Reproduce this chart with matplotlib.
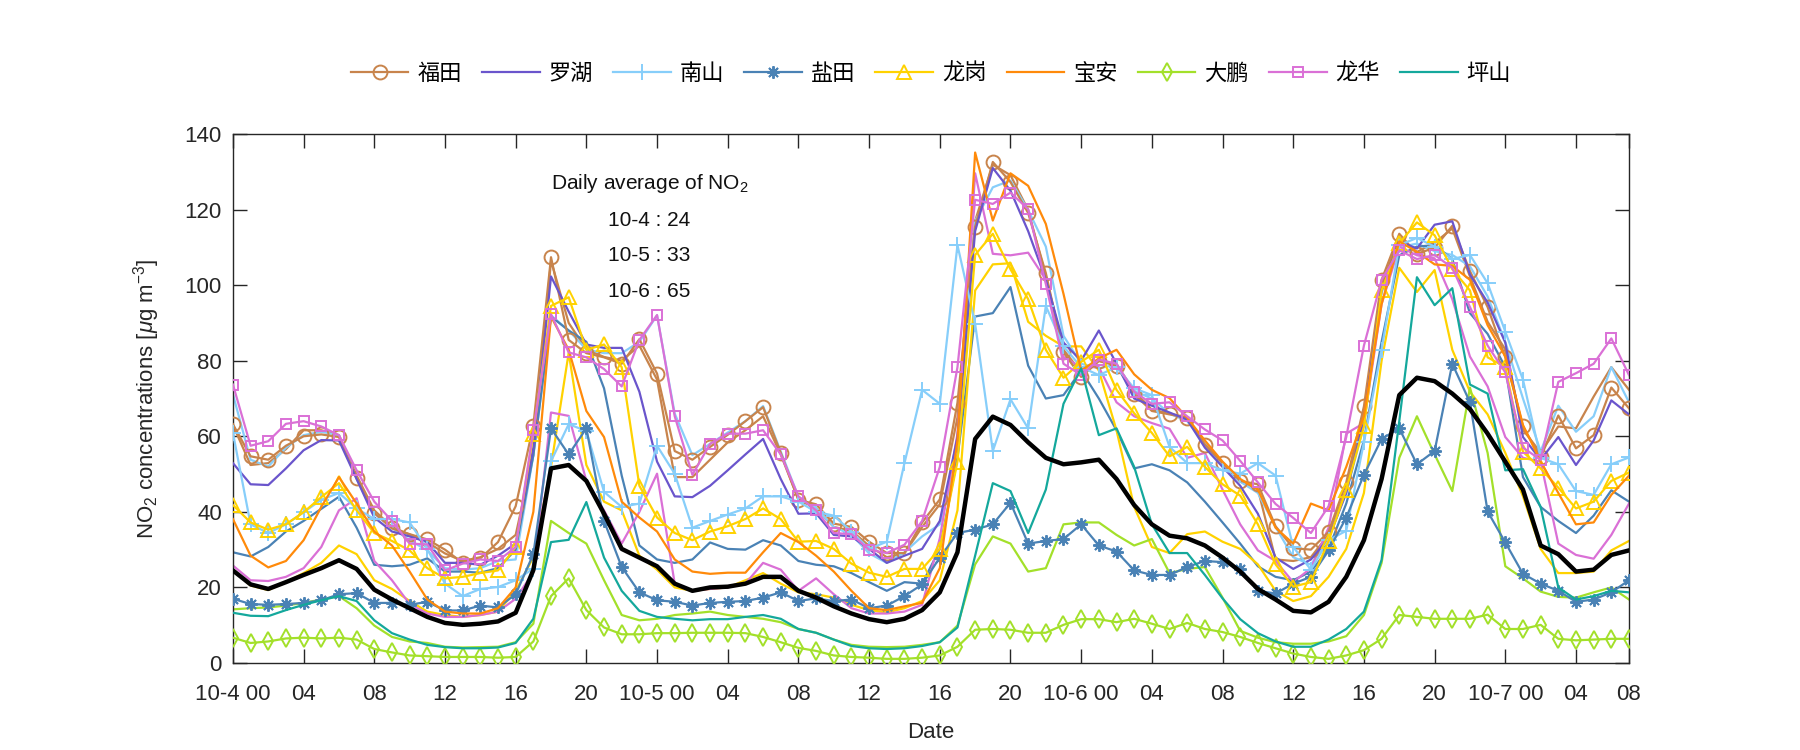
import numpy as np
import matplotlib
matplotlib.use("Agg")
import matplotlib.pyplot as plt

hours = np.arange(80)

futian = [63.2, 54.7, 53.8, 57.5, 60, 60.5, 59.8, 48.9, 39.7, 35.6, 34.1, 32.7, 30, 26.5, 27.7, 32, 41.5,
          62.8, 107.4, 85.5, 82, 80.9, 79.2, 85.7, 76.6, 56.1, 53.8, 57.2, 60.4, 64, 67.7, 55.6, 43.2,
          42, 36.9, 36, 32.1, 29.1, 29.1, 37.2, 43.3, 68.9, 115.5, 132.6, 127.3, 119.1, 103.2, 82.2, 75.7,
          79.9, 78.7, 71.1, 66.7, 65.8, 64.9, 57.8, 52.9, 48.2, 47.3, 36.2, 30.4, 30, 34.7, 47.8, 67.9,
          101.4, 113.6, 108.3, 109.9, 115.7, 103.7, 94.2, 80.9, 62.6, 54.4, 65.5, 56.8, 60.3, 72.9, 67.4]
luohu = [52.9, 47.3, 47.1, 51.5, 56.3, 59, 58.9, 48.7, 38.5, 34.8, 33.5, 32, 26.5, 26.5, 26, 28.4, 31.6,
         57, 102.3, 93, 84.3, 83.4, 83.4, 71.8, 53.3, 44.1, 43.9, 46.9, 51, 55.2, 59.3, 48.7, 39.5,
         39.6, 33.9, 33.5, 30.2, 26.5, 28.4, 30.2, 37.6, 59.8, 114.3, 131, 125, 114.3, 101.4, 84.8, 80,
         88, 79.2, 70, 68.1, 66.3, 64.4, 57, 51.9, 46.9, 39.5, 27.9, 24.9, 27.4, 33, 45, 64.4,
         98.6, 111.6, 109.7, 116, 116.9, 102.8, 95.4, 84.8, 59.8, 53.8, 59.8, 52.4, 58.9, 69.5, 65.8]
nanshan = [60.9, 36.7, 34.4, 36.7, 39.9, 43.2, 45, 40.9, 38.1, 38.1, 37.2, 30.2, 21, 17.7, 19.6, 20.1, 21.9,
           25, 53.4, 63.2, 61.4, 45.3, 41.3, 42.2, 57.5, 50.1, 35.8, 37.6, 39.3, 40.9, 44.1, 44.1, 42.7,
           40, 39, 34.8, 30.2, 32.1, 52.9, 72.3, 68.6, 110.6, 89.8, 56.1, 69.8, 62.1, 94.5, 83.8, 78.3,
           76.2, 78.3, 72.7, 70.9, 57.2, 52.9, 52.9, 51, 50.1, 52.9, 49.6, 30.7, 24.7, 32.5, 35, 58.4,
           82.9, 110.6, 112.5, 110.2, 106.9, 108, 100.5, 87.7, 75, 54.3, 52.6, 45.5, 44.5, 52.6, 54.4]
yantian = [17, 15.6, 15.4, 15.6, 15.9, 16.6, 18.2, 18.5, 15.9, 15.9, 15.4, 16.2, 13.9, 13.9, 15.2, 14.7, 18.2,
           28.8, 62.1, 55.2, 62.1, 37.6, 25.4, 18.7, 16.6, 16.2, 15.2, 15.9, 16.2, 16.4, 17.3, 18.7, 16.4,
           17.1, 16.4, 16.8, 14.5, 15.2, 17.7, 20.8, 27.9, 34.4, 35.3, 36.7, 42.4, 31.6, 32.3, 32.8, 36.7,
           31.1, 29.5, 24.5, 23.3, 23.3, 25.4, 27, 26.7, 24.9, 19.1, 18.4, 21, 22.8, 29.8, 38.5, 49.8,
           59.3, 62.1, 52.6, 56.1, 79.2, 69, 40.1, 31.9, 23.6, 21, 19.1, 16.2, 16.8, 18.7, 21.9]
longgang = [41.8, 37.2, 35.3, 36.7, 39.9, 43.9, 47.6, 40.4, 34.4, 32.3, 29.8, 25.1, 22.4, 22.8, 23.8, 24.5, 30.7,
            60.7, 94.5, 96.8, 82.9, 84.3, 78.3, 46.9, 38.5, 34.4, 32.5, 34.8, 36.2, 38.1, 40.9, 38.1, 32.1,
            32.3, 30.2, 26.3, 23.9, 22.8, 24.9, 24.9, 30.2, 53.3, 108, 113.6, 104.2, 96.3, 82.9, 75.5, 79.7,
            82.9, 72.3, 66.1, 60.9, 54.7, 57.2, 51.9, 47.3, 44.3, 36.7, 26.1, 20.2, 21.4, 32.3, 45.9, 62.6,
            98.6, 111.1, 116.6, 113.2, 104.2, 98.6, 80.9, 78.3, 55.9, 51.5, 46.4, 40.9, 42.7, 48.2, 50.4]
baoan = [38.1, 28.4, 25.3, 27, 32.5, 41.3, 49.2, 42.2, 34.8, 31.1, 24.2, 16.8, 13.6, 13.1, 13.1, 14.5, 20,
         40, 91.7, 82.9, 66.7, 59.8, 42.7, 38.5, 34.8, 27.4, 24.2, 23.6, 23.9, 23.9, 29.3, 34.4, 32,
         28.4, 24.2, 19.1, 14.5, 14, 15, 15.9, 25.1, 58.9, 135.1, 117.1, 129.6, 126.3, 116.2, 97.7, 77.4,
         80.6, 82.9, 76.4, 72.3, 70.1, 64.9, 58.9, 53.3, 48.7, 45.9, 35.8, 31.6, 42.2, 40.4, 51.9, 65.3,
         95, 111.6, 108.8, 105.5, 105.1, 101.4, 89.4, 81.1, 63, 53.3, 45, 36.7, 37.2, 44.5, 49.6]
dapeng = [6.7, 5.3, 5.7, 6.5, 6.7, 6.5, 6.7, 6.2, 3.7, 2.8, 2, 1.8, 1.6, 1.6, 1.6, 1.4, 1.6,
          5.7, 17.7, 22.4, 14, 9.4, 7.6, 7.6, 7.9, 7.9, 8, 8, 8, 7.9, 6.9, 5.5, 4,
          3.2, 2, 1.6, 1.4, 1.1, 1.1, 1.4, 2, 4.3, 8.8, 9, 8.8, 8, 8, 10.1, 11.6,
          11.6, 10.8, 11.7, 10.4, 9, 10.6, 9, 8.2, 6.9, 5.3, 3.9, 2.5, 1.6, 1.1, 2, 3.4,
          6.4, 12.7, 12.2, 11.7, 11.7, 11.7, 12.8, 9, 9, 10.1, 6.4, 6, 6.2, 6.4, 6.4]
longhua = [73.7, 57.5, 58.7, 63.3, 64, 62.6, 60.3, 51, 42.7, 37.6, 31.6, 31.4, 24.5, 26.3, 27.4, 27, 30.7,
           61.6, 92.3, 82.2, 80.9, 77.8, 73.2, 85.5, 92.1, 65.3, 49.8, 58, 60.7, 60.7, 61.6, 55.2, 44.1,
           40.4, 34.4, 34.1, 30, 29.1, 31.3, 37.6, 51.9, 78.3, 122.6, 121.5, 124.5, 120.1, 100.3, 79.2, 76.2,
           80.3, 79.2, 71.8, 68.6, 69, 65.3, 61.8, 58.9, 53.5, 47.8, 42.1, 38.4, 34.4, 41.5, 59.8, 84,
           101.4, 109.2, 106.9, 108, 104.6, 94.2, 84, 76.9, 57, 53.8, 74.4, 76.7, 79.2, 85.9, 76.2]
pingshan = [13.3, 12.5, 12.4, 14, 15.4, 16.6, 17.7, 16.4, 11.3, 7.9, 6.2, 4.8, 4.2, 3.9, 3.9, 4.1, 5.3,
            11.7, 32, 32.6, 42.6, 27.9, 19.1, 13.8, 12.2, 11.7, 11.3, 11.6, 11.6, 12.2, 12.7, 11.7, 9,
            8, 6.2, 4.5, 3.9, 3.7, 3.9, 4.5, 5.5, 9.4, 28.4, 47.6, 45.5, 34.4, 45.9, 68.6, 78,
            60.3, 62.1, 51.9, 36.7, 29.1, 29.1, 23.3, 17.1, 11.6, 7.9, 5.7, 4.3, 4.3, 6.2, 9, 13.6,
            27.3, 64, 102.1, 94.7, 99.2, 73.7, 71.3, 51, 51.3, 41.3, 20, 16.8, 17.7, 19.1, 18.7]

# second set of district curves (plotted without markers)
futian_b = [63, 52.4, 52.9, 56.6, 61.6, 61.6, 60.3, 49.6, 40.4, 36, 34, 32, 29, 27, 28, 30.2, 33.9,
            55, 106.5, 90, 83, 81, 80, 84, 75, 49.2, 49.2, 53.8, 58.4, 61.6, 65.3, 55.2, 43.2,
            41, 36, 35, 31, 28, 29, 36, 42, 65, 117, 131.9, 129.1, 119.9, 102.3, 82.9, 76.9,
            80, 79, 72, 67, 66, 65, 58, 53, 48, 46, 27.4, 27, 28, 34, 46, 66,
            100, 112.5, 108.8, 111.2, 115, 102.3, 90.3, 83, 61.7, 55.7, 62.6, 62.1, 70.5, 78.3, 72.3]
nanshan_b = [71.1, 53.8, 52, 57, 60.3, 61.2, 60.3, 48.7, 39.5, 35.8, 32.5, 29.8, 25.1, 24.7, 25.1, 27, 27.4,
             55, 92, 88, 83, 82, 82, 85, 92, 66, 55, 58, 61, 64, 68, 56, 44,
             41, 36, 34, 29, 26.5, 29.3, 33.5, 36.7, 54.3, 117, 125.9, 127.7, 119.9, 110.2, 86.6, 79.2,
             78, 79, 72, 70, 66, 64, 58, 52, 48, 45, 36, 28, 26, 33, 45, 63,
             98, 110, 111, 109, 108, 105, 97, 85, 70, 56, 68.1, 61.2, 65.3, 78.3, 69]
yantian_b = [29.3, 28.2, 30.7, 34.8, 37.6, 40.8, 44, 35.8, 26, 25.6, 26, 27.7, 24.2, 24.2, 23.9, 25.1, 30,
             55, 91.7, 88, 85, 72.7, 49.6, 31.1, 27.4, 26.5, 27.4, 31.9, 30.2, 30, 32.5, 31.1, 27,
             26, 25.6, 23.8, 21.4, 19.1, 21.4, 21, 30.2, 54.3, 91.7, 92.6, 99.5, 78.7, 70, 70.9, 77.4,
             70, 61.6, 51.5, 52.6, 51, 47.8, 42.7, 37.2, 31.6, 25.6, 22.8, 21.9, 24.2, 30.2, 42.2, 58.9,
             85, 107.9, 110.2, 110.6, 106.9, 92.6, 87.1, 78.3, 49.2, 41.3, 37.6, 34.4, 39, 45.7, 42.7]
longgang_b = [24.7, 20.5, 19.3, 21.4, 23.8, 26.5, 31.1, 28.8, 21.9, 19.6, 16.4, 13.6, 12.7, 12.2, 12.7, 13.6, 19.1,
              28, 52, 82.1, 52.4, 42.7, 40.4, 28.4, 24.7, 20, 19.1, 19.6, 20, 21.9, 23.8, 21, 18.7,
              18.2, 17.3, 15.4, 14, 13.4, 14.5, 16.4, 21.9, 40.4, 98.6, 105.5, 105.8, 90.3, 86.6, 83.8, 83.8,
              77.4, 61.6, 41.3, 30.7, 29.1, 34.1, 34.8, 32.1, 30.2, 26.1, 19.1, 16.4, 17.7, 22.8, 30.2, 45,
              80, 104.6, 98.2, 104, 82.9, 71.8, 65.8, 55.6, 44.1, 30.2, 23.8, 23.8, 24.2, 29.8, 32.3]
dapeng_b = [14.2, 14.5, 14.7, 15.2, 15.9, 16.8, 17.7, 14.5, 9.9, 6.9, 5.7, 5.3, 4.3, 4.1, 4.2, 4.3, 5.5,
            10.4, 37.6, 34.4, 31.6, 21.9, 12.7, 11.3, 11.7, 12.7, 13.1, 13.6, 12.7, 12.2, 11.7, 10.8, 9,
            8, 6.2, 4.8, 4.3, 4.2, 4.3, 4.8, 5.5, 9.9, 26.1, 33.5, 31.6, 24.2, 25.1, 36.7, 37.2,
            37.2, 33.9, 31.1, 32.8, 23.8, 24.9, 25.4, 17.3, 8.5, 6.7, 5.5, 5.1, 5.1, 5.7, 7.1, 12.7,
            26.5, 54.3, 65.3, 55.2, 45.5, 72.9, 55.6, 25.6, 22.4, 18.9, 17.5, 17.3, 18.7, 20, 16.8]
longhua_b = [25.8, 21.9, 21.7, 22.8, 25.1, 30.7, 40.4, 43.6, 27, 21.9, 15.6, 13.1, 12.2, 12.2, 12.7, 13.6, 17,
             24, 66.3, 65.4, 48.2, 40.4, 31.6, 40, 50.1, 21, 19.1, 19.6, 20, 21, 26.5, 24.7, 19.1,
             22.4, 18.2, 14.5, 13.1, 13.1, 13.6, 15.4, 33, 60.7, 129.6, 108.3, 107.9, 108.6, 101.4, 81, 78.3,
             78.3, 69, 65.3, 63.5, 62, 54.3, 55.6, 45.9, 36.7, 29.8, 27, 21.4, 25.1, 35.8, 60.7, 63.5,
             95, 110.2, 107.9, 107.1, 96.3, 81.1, 73.2, 59.8, 54.3, 53.3, 31.6, 28.6, 27.6, 33.9, 42.2]
average = [24.5, 20.8, 19.6, 21.4, 23.3, 25.1, 27.2, 24.9, 19.4, 16.8, 14.5, 12.2, 10.6, 10.1, 10.4, 11, 13.3,
           24.6, 51.5, 52.4, 48.2, 39.5, 30.2, 27.9, 25.6, 21, 19.1, 20, 20.2, 21, 22.8, 22.8, 19.1,
           17.3, 15, 13.1, 11.6, 10.8, 11.7, 14, 18.7, 29.3, 59.3, 65.2, 63, 58.4, 54.3, 52.6, 53.1,
           53.8, 48.7, 41.8, 36.7, 33.7, 33, 31.1, 27.9, 24.2, 19.6, 16.8, 13.8, 13.4, 16.2, 22.8, 32.5,
           48.7, 70.9, 75.5, 74.6, 71.3, 67.2, 60.7, 53.3, 45.9, 31.1, 28.8, 24.2, 24.7, 28.6, 29.8]

tick_pos = [0, 4, 8, 12, 16, 20, 24, 28, 32, 36, 40, 44, 48, 52, 56, 60, 64, 68, 72, 76, 79]
tick_labels = ['10-4 00', '04', '08', '12', '16', '20', '10-5 00', '04', '08', '12', '16', '20',
               '10-6 00', '04', '08', '12', '16', '20', '10-7 00', '04', '08']
daily_avg = [('10-4', 24), ('10-5', 33), ('10-6', 65)]

names = ['福田', '罗湖', '南山', '盐田', '龙岗', '宝安', '大鹏', '龙华', '坪山']
colors = ['#C8844C', '#6A55CC', '#87CEFA', '#4A82B5', '#FFD200', '#FF8A0A', '#A3E02A', '#DA70D6', '#14A89C']
markers = ['o', None, '+', (8, 2, 0), '^', None, 'd', 's', None]
msizes = [10, 0, 11, 9, 10, 0, 9, 7.5, 0]
series = [futian, luohu, nanshan, yantian, longgang, baoan, dapeng, longhua, pingshan]
second = {0: futian_b, 2: nanshan_b, 3: yantian_b, 4: longgang_b, 6: dapeng_b, 7: longhua_b}

plt.rcParams['font.family'] = ['Liberation Sans', 'Noto Sans CJK SC']
plt.rcParams['mathtext.fontset'] = 'custom'
plt.rcParams['mathtext.rm'] = 'Liberation Sans'
plt.rcParams['mathtext.it'] = 'Liberation Sans:italic'

fig = plt.figure(figsize=(18, 7.5), dpi=100)
ax = fig.add_axes([0.1294, 0.116, 0.7756, 0.7053])

for i, vals in second.items():
    ax.plot(hours, vals, color=colors[i], lw=1.6, zorder=2)

handles = []
for i, vals in enumerate(series):
    if markers[i] is None:
        h, = ax.plot(hours, vals, color=colors[i], lw=1.6, zorder=3)
    else:
        h, = ax.plot(hours, vals, color=colors[i], lw=1.6, marker=markers[i], ms=msizes[i],
                     mfc='none', mec=colors[i], mew=1.4, zorder=3)
    handles.append(h)

ax.plot(hours, average, color='black', lw=3.2, zorder=4)

ax.set_xlim(0, 79)
ax.set_ylim(0, 140)
ax.set_yticks(np.arange(0, 141, 20))
ax.set_xticks(tick_pos)
ax.set_xticklabels(tick_labels)
ax.tick_params(direction='in', length=10, width=1, top=True, right=True,
               labelsize=16, colors='#262626')
ax.tick_params(axis='x', pad=15)
ax.tick_params(axis='y', pad=8)
for s in ax.spines.values():
    s.set_color('#262626')
    s.set_linewidth(1.0)

ax.set_ylabel(r'NO$_2$ concentrations [$\mu$g m$^{-3}$]', fontsize=16, color='#262626', labelpad=16)
ax.set_xlabel('Date', fontsize=16, color='#262626', labelpad=12)

ax.text(18.0, 126.8, r'Daily average of NO$_2$', fontsize=15, family='Liberation Sans',
        va='center', ha='left', color='#111111')
for k, (d, v) in enumerate(daily_avg):
    ax.text(21.2, 117.2 - k * 9.4, f'{d} : {v}', fontsize=15, family='Liberation Sans',
            va='center', ha='left', color='#111111')

leg = ax.legend(handles, names, loc='lower center', bbox_to_anchor=(0.5, 1.055), ncol=9,
                frameon=False, handlelength=2.6, handletextpad=0.4,
                columnspacing=0.9, prop={'family': ['Noto Sans CJK SC'], 'size': 16})

fig.savefig('out.png', dpi=100)
